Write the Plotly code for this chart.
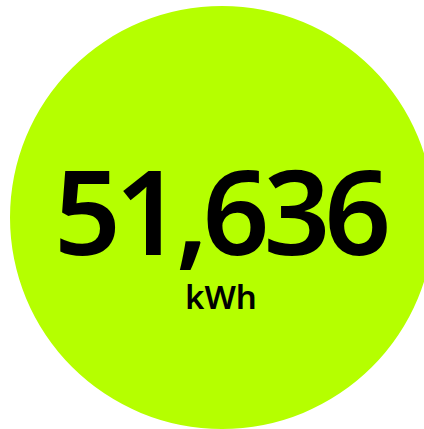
import plotly.graph_objects as go

# the single KPI shown in the badge
value = 51636
unit = "kWh"
badge_color = "#B5FF00"

W, H = 424, 429

fig = go.Figure()

# lime badge (slightly cut off on the right, as in the original)
fig.add_shape(type="circle", xref="x", yref="y",
              x0=10, x1=434, y0=6, y1=429,
              fillcolor=badge_color, line_width=0, layer="below")

fig.add_annotation(x=219, y=209, xref="x", yref="y",
                   text=f"{value:,}", showarrow=False,
                   font=dict(family="Noto Sans", size=117, color="#000000", weight=600),
                   xanchor="center", yanchor="middle")

fig.add_annotation(x=221, y=296, xref="x", yref="y",
                   text=unit, showarrow=False,
                   font=dict(family="Noto Sans", size=33, color="#000000", weight=600),
                   xanchor="center", yanchor="middle")

fig.update_xaxes(range=[0, W], visible=False, fixedrange=True)
fig.update_yaxes(range=[H, 0], visible=False, fixedrange=True)
fig.update_layout(width=W, height=H, margin=dict(l=0, r=0, t=0, b=0),
                  paper_bgcolor="white", plot_bgcolor="white", showlegend=False)

# tighter tracking on the big number, like the original badge
js = """
document.body.style.margin='0';
document.body.style.overflow='hidden';
var t = document.querySelectorAll('.annotation-text')[0];
if (t) { t.style.letterSpacing = '-6px'; }
"""
fig.write_html("out.html", config={"displayModeBar": False}, post_script=js)
